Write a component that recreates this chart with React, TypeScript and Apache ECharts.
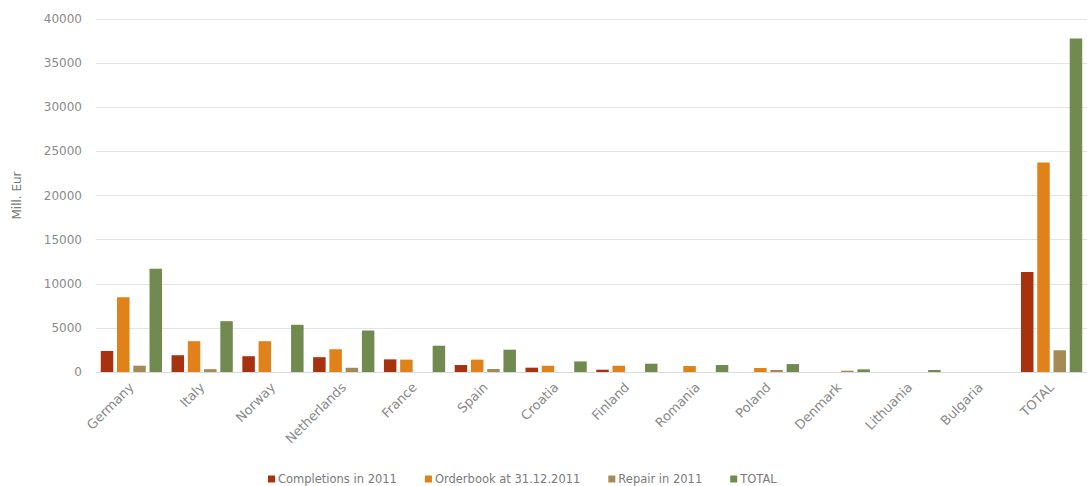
import React, { useEffect, useRef } from "react";
import * as echarts from "echarts";

const categories = [
  "Germany", "Italy", "Norway", "Netherlands", "France", "Spain", "Croatia",
  "Finland", "Romania", "Poland", "Denmark", "Lithuania", "Bulgaria", "TOTAL",
];
const completions = [2380, 1900, 1790, 1680, 1430, 790, 490, 260, 0, 0, 0, 0, 0, 11330];
const orderbook = [8470, 3490, 3490, 2580, 1400, 1400, 710, 710, 680, 450, 0, 0, 0, 23730];
const repair = [715, 320, 0, 480, 0, 340, 0, 0, 0, 230, 150, 0, 0, 2460];
const total = [11700, 5760, 5350, 4700, 2980, 2530, 1200, 940, 790, 900, 300, 230, 0, 37780];

const seriesNames = ["Completions in 2011", "Orderbook at 31.12.2011", "Repair in 2011", "TOTAL"];
const seriesColors = ["#A8320F", "#E08119", "#A48A57", "#718A4F"];
const yTicks = { min: 0, max: 40000, interval: 5000 };

const FONT = "'DejaVu Sans', sans-serif";

export default function App() {
  const ref = useRef<HTMLDivElement>(null);
  useEffect(() => {
    if (!ref.current) return;
    const chart = echarts.init(ref.current, undefined, { renderer: "svg" });
    const data = [completions, orderbook, repair, total];
    chart.setOption({
      animation: false,
      textStyle: { fontFamily: FONT },
      grid: { left: 96, right: -7, top: 19, bottom: 114, containLabel: false },
      legend: {
        left: 268,
        bottom: 1,
        padding: 0,
        icon: "rect",
        itemWidth: 7,
        itemHeight: 7,
        itemGap: 28,
        textStyle: { color: "#7a7a7a", fontSize: 11.5, fontFamily: FONT, padding: [0, 0, 0, -2] },
        data: seriesNames,
      },
      xAxis: {
        type: "category",
        data: categories,
        axisLine: { lineStyle: { color: "#d9d9d9" } },
        axisTick: { show: false },
        axisLabel: {
          rotate: 45,
          color: "#8a8a8a",
          fontSize: 13,
          fontFamily: FONT,
          margin: 13,
          interval: 0,
        },
      },
      yAxis: {
        type: "value",
        min: yTicks.min,
        max: yTicks.max,
        interval: yTicks.interval,
        name: "Mill. Eur",
        nameLocation: "middle",
        nameGap: 73,
        nameTextStyle: { color: "#7a7a7a", fontSize: 12, fontFamily: FONT },
        axisLine: { show: false },
        axisTick: { show: false },
        axisLabel: {
          color: "#8a8a8a",
          fontSize: 12,
          fontFamily: FONT,
          margin: 14,
          formatter: (v: number) => String(v),
        },
        splitLine: { lineStyle: { color: "#e3e3e3" } },
      },
      series: seriesNames.map((name, i) => ({
        name,
        type: "bar",
        data: data[i],
        barWidth: 12.5,
        barGap: "30%",
        itemStyle: { color: seriesColors[i] },
      })),
    });
    return () => chart.dispose();
  }, []);
  return (
    <div
      ref={ref}
      style={{ position: "fixed", left: 0, top: 0, width: 1087, height: 486, background: "#fff" }}
    />
  );
}
